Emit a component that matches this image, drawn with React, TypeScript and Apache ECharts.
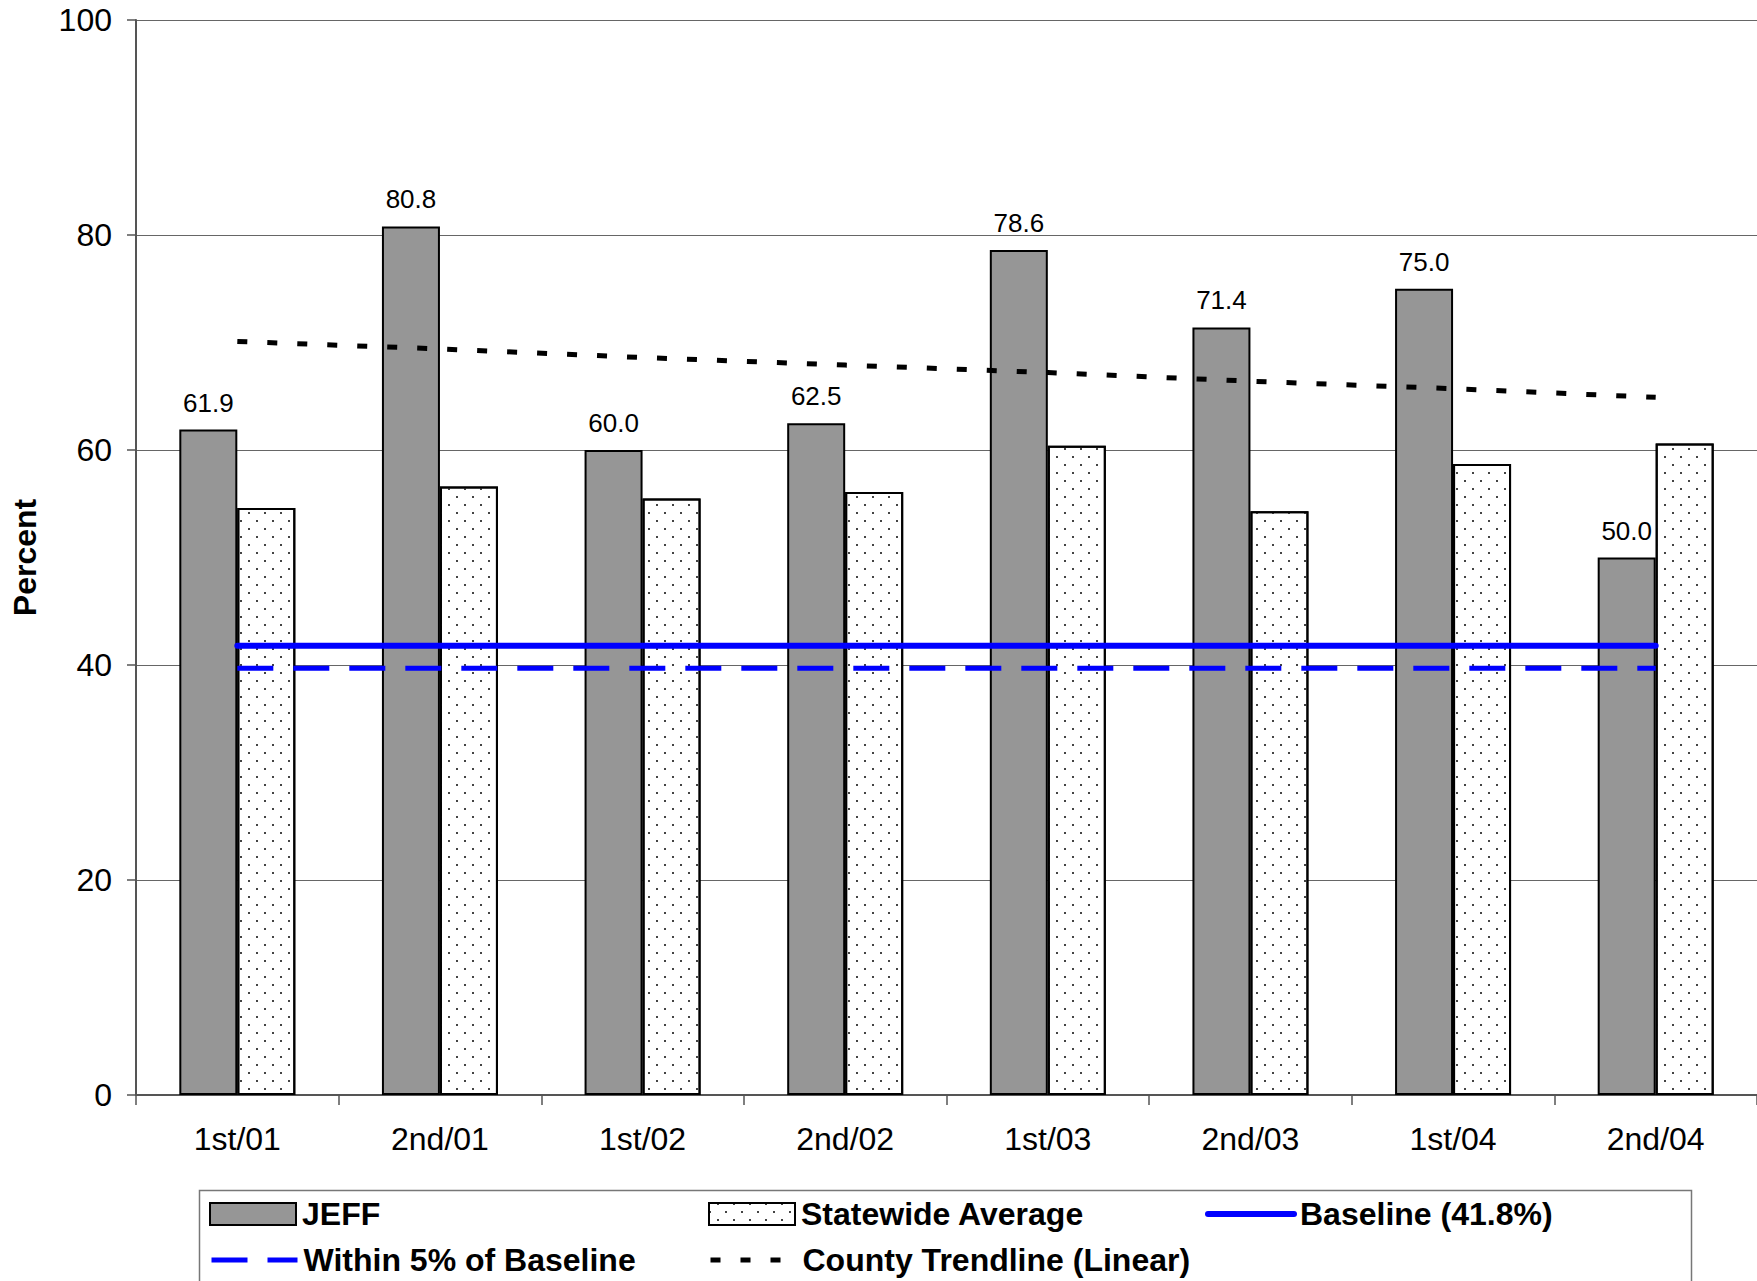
import React, { useEffect, useRef } from "react";
import * as echarts from "echarts";

const categories = ["1st/01", "2nd/01", "1st/02", "2nd/02", "1st/03", "2nd/03", "1st/04", "2nd/04"];
const jeffValues = [61.9, 80.8, 60.0, 62.5, 78.6, 71.4, 75.0, 50.0];
const statewideValues = [54.6, 56.6, 55.5, 56.1, 60.4, 54.3, 58.7, 60.6];
const baselineValues = [41.8, 41.8, 41.8, 41.8, 41.8, 41.8, 41.8, 41.8];
const within5Values = [39.7, 39.7, 39.7, 39.7, 39.7, 39.7, 39.7, 39.7];
const trendValues = [70.1, 69.4, 68.6, 67.9, 67.2, 66.4, 65.7, 64.9];
const yMin = 0;
const yMax = 100;
const yInterval = 20;

const seriesNames = {
  jeff: "JEFF",
  state: "Statewide Average",
  base: "Baseline (41.8%)",
  within: "Within 5% of Baseline",
  trend: "County Trendline (Linear)",
};

const FONT = '"Liberation Sans", Arial, Helvetica, sans-serif';

const BLUE = "#0000ff";
const baseLine = { color: BLUE, width: 6, cap: "round", type: "solid" };
const withinLine = { color: BLUE, width: 5, type: [36, 20], cap: "butt" };
const trendLine = { color: "#000", width: 5, type: [10, 20], cap: "butt" };

function legendAt(name: string, left: number, top: number, extra: any = {}) {
  return {
    data: [name],
    left,
    top,
    padding: 0,
    itemWidth: 86,
    itemHeight: 22,
    itemGap: 0,
    selectedMode: false,
    textStyle: { fontFamily: FONT, fontSize: 32, fontWeight: "bold", color: "#000", padding: [0, 0, 0, 1] },
    ...extra,
  };
}

function lineLegend(name: string, left: number, top: number, ls: any) {
  return legendAt(name, left, top, {
    itemStyle: { opacity: 0, borderWidth: 0 },
    lineStyle: { ...ls, opacity: 1 },
  });
}

export default function App() {
  const ref = useRef<HTMLDivElement>(null);
  useEffect(() => {
    if (!ref.current) return;
    const chart = echarts.init(ref.current, null, { renderer: "svg" });
    const option: any = {
      animation: false,
      backgroundColor: "#fff",
      textStyle: { fontFamily: FONT },
      grid: { left: 136, right: 0, top: 20, bottom: 186, containLabel: false },
      xAxis: {
        type: "category",
        data: categories,
        boundaryGap: true,
        axisLine: { show: true, lineStyle: { color: "#555", width: 2 } },
        axisTick: { show: true, length: 10, lineStyle: { color: "#555", width: 1.5 } },
        axisLabel: { fontFamily: FONT, fontSize: 32, color: "#000", margin: 28 },
        splitLine: { show: false },
      },
      yAxis: {
        type: "value",
        min: yMin,
        max: yMax,
        interval: yInterval,
        name: "Percent",
        nameLocation: "middle",
        nameRotate: 90,
        nameGap: 95,
        nameTextStyle: { fontFamily: FONT, fontSize: 32, fontWeight: "bold", color: "#000" },
        axisLine: { show: true, lineStyle: { color: "#555", width: 2 } },
        axisTick: { show: true, length: 9, lineStyle: { color: "#555", width: 1.5 } },
        axisLabel: { fontFamily: FONT, fontSize: 32, color: "#000", margin: 24 },
        splitLine: { show: true, lineStyle: { color: "#666", width: 1.2 } },
      },
      legend: [
        legendAt(seriesNames.jeff, 209, 1198, { icon: "rect" }),
        legendAt(seriesNames.state, 708, 1198, { icon: "rect" }),
        lineLegend(seriesNames.base, 1205, 1198, baseLine),
        lineLegend(seriesNames.within, 209, 1244, withinLine),
        lineLegend(seriesNames.trend, 708, 1244, trendLine),
      ],
      graphic: [
        {
          type: "rect",
          shape: { x: 199.5, y: 1190.5, width: 1492, height: 120 },
          style: { fill: "none", stroke: "#777", lineWidth: 1.5 },
          z: -1,
        },
      ],
      series: [
        {
          name: seriesNames.jeff,
          type: "bar",
          data: jeffValues,
          barWidth: 58,
          barGap: "0%",
          itemStyle: { color: "#969696", borderColor: "#000", borderWidth: 2 },
          label: {
            show: true,
            position: "top",
            distance: 14,
            fontFamily: FONT,
            fontSize: 26,
            color: "#000",
            formatter: (p: any) => Number(p.value).toFixed(1),
          },
          z: 2,
        },
        {
          name: seriesNames.state,
          type: "bar",
          data: statewideValues,
          barWidth: 58,
          barGap: "0%",
          itemStyle: {
            color: "#fff",
            borderColor: "#000",
            borderWidth: 2,
            decal: {
              symbol: "rect",
              symbolSize: 1,
              color: "#444",
              backgroundColor: "#fff",
              dashArrayX: [[2, 14], [0, 8, 2, 6]],
              dashArrayY: [2, 6],
              rotation: 0,
            },
          },
          z: 2,
        },
        {
          name: seriesNames.base,
          type: "line",
          data: baselineValues,
          symbol: "none",
          showSymbol: false,
          lineStyle: baseLine,
          itemStyle: { color: BLUE },
          z: 5,
        },
        {
          name: seriesNames.within,
          type: "line",
          data: within5Values,
          symbol: "none",
          showSymbol: false,
          lineStyle: withinLine,
          itemStyle: { color: BLUE },
          z: 5,
        },
        {
          name: seriesNames.trend,
          type: "line",
          data: trendValues,
          symbol: "none",
          showSymbol: false,
          lineStyle: trendLine,
          itemStyle: { color: "#000" },
          z: 5,
        },
      ],
    };
    chart.setOption(option);
    return () => chart.dispose();
  }, []);
  return (
    <div
      ref={ref}
      style={{ position: "fixed", left: 0, top: 0, width: 1757, height: 1281, background: "#fff" }}
    />
  );
}
